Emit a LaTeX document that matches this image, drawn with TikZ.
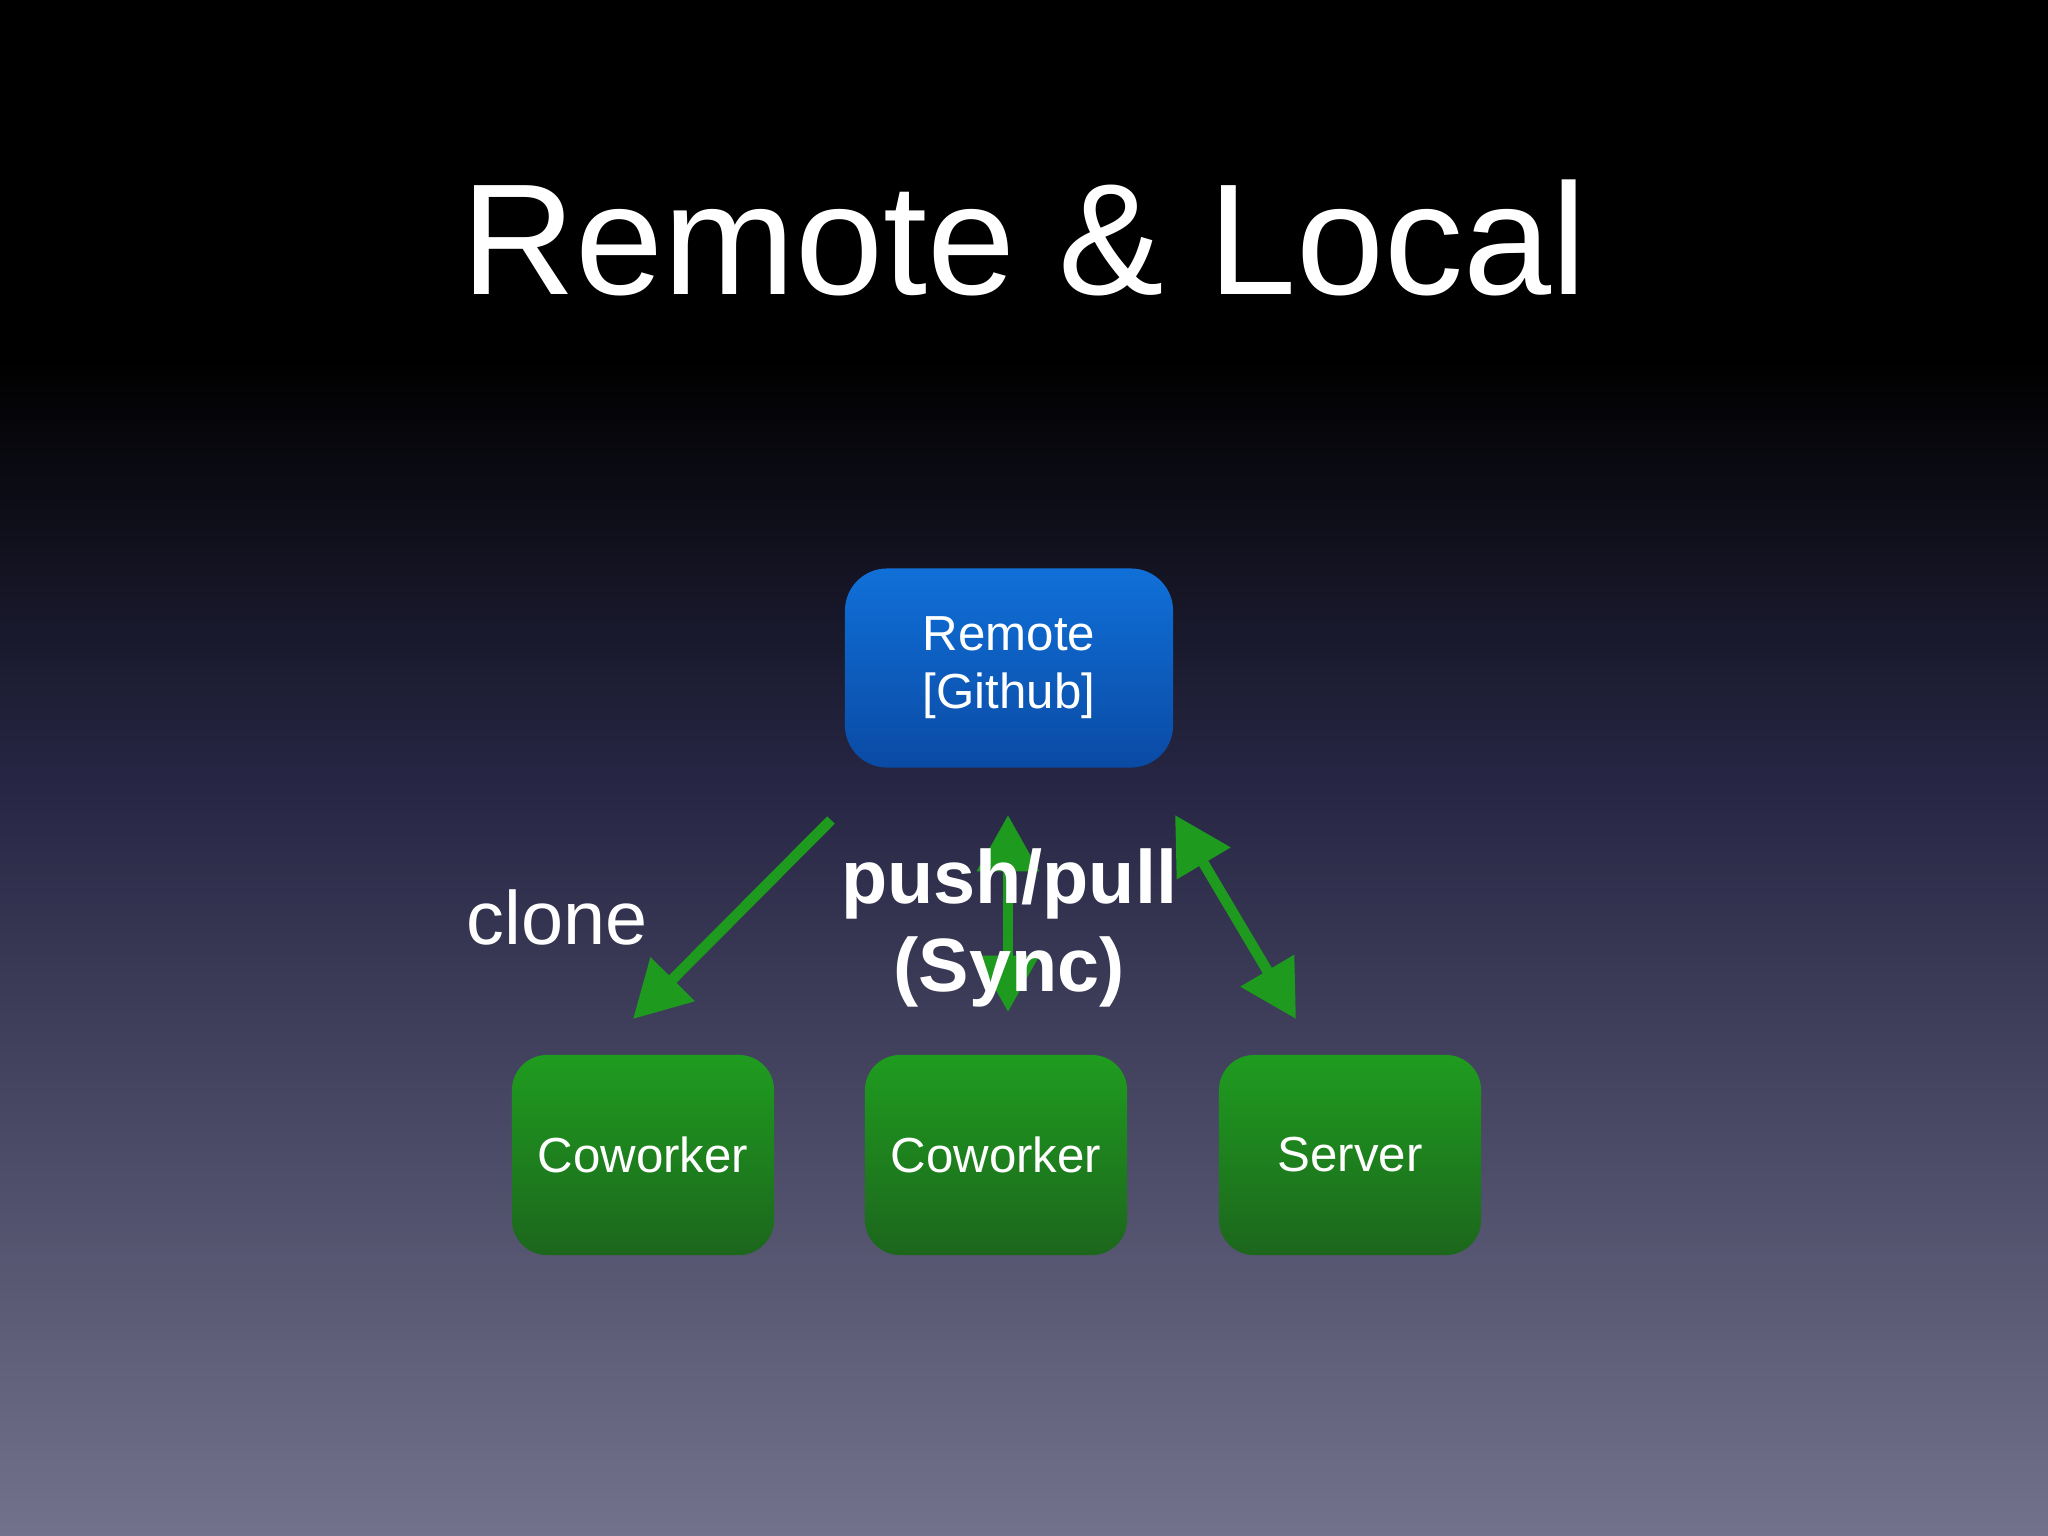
\documentclass[tikz,border=0pt]{standalone}
\usepackage{fontspec}
\setmainfont{Liberation Sans}
\usetikzlibrary{arrows.meta}
\definecolor{bgbot}{HTML}{72728C}
\definecolor{bgmid}{HTML}{262644}
\definecolor{arrowgreen}{HTML}{1E9A1E}
\definecolor{bluetop}{HTML}{1070D8}
\definecolor{bluebot}{HTML}{0A4AA4}
\definecolor{greentop}{HTML}{1F9C1F}
\definecolor{greenbot}{HTML}{1C661C}
\tikzset{
  bluebox/.style={rounded corners=12pt, top color=bluetop, bottom color=bluebot,
    minimum width=3.28cm, minimum height=1.99cm, text=white, align=center, font=\fontsize{14}{16.5}\selectfont, inner sep=0pt},
  greenbox/.style={rounded corners=10pt, top color=greentop, bottom color=greenbot,
    minimum width=2.62cm, minimum height=2.0cm, text=white, font=\fontsize{14}{17}\selectfont, inner sep=0pt},
  garrow/.style={arrowgreen, line width=3pt, -{Triangle[length=16pt,width=17pt]}},
  gdarrow/.style={arrowgreen, line width=3pt, {Triangle[length=16pt,width=17pt]}-{Triangle[length=16pt,width=17pt]}},
  lbl/.style={text=white}
}
\begin{document}
\begin{tikzpicture}[x=0.01cm,y=-0.01cm]
\useasboundingbox (0,0) rectangle (2048,1536);
\fill[black] (0,0) rectangle (2048,360);
\shade[top color=black, bottom color=bgmid] (0,359) rectangle (2048,780);
\shade[top color=bgmid, bottom color=bgbot] (0,779) rectangle (2048,1536);
\node[lbl, font=\fontsize{45}{48}\selectfont] (title) at (1024,238) {Remote \& Local};
\node[bluebox] (remote) at (1009,668) {Remote\\{}[Github]};
\node[greenbox] (c1) at (643,1155) {Coworker};
\node[greenbox] (c2) at (996,1155) {Coworker};
\node[greenbox] (srv) at (1350,1155) {Server};
\coordinate (a1s) at (831,820); \coordinate (a1e) at (633,1019);
\coordinate (a2s) at (1008,1012); \coordinate (a2e) at (1008,815);
\coordinate (a3s) at (1175,815); \coordinate (a3e) at (1296,1019);
\draw[garrow] (a1s) -- (a1e);
\draw[gdarrow] (a2s) -- (a2e);
\draw[gdarrow] (a3s) -- (a3e);
\node[lbl, font=\fontsize{21.5}{24}\selectfont] (clone) at (557,917) {clone};
\node[lbl, font=\bfseries\fontsize{21.5}{25}\selectfont, align=center] (pp) at (1009,928) {push/pull\\(Sync)};
\end{tikzpicture}
\end{document}
